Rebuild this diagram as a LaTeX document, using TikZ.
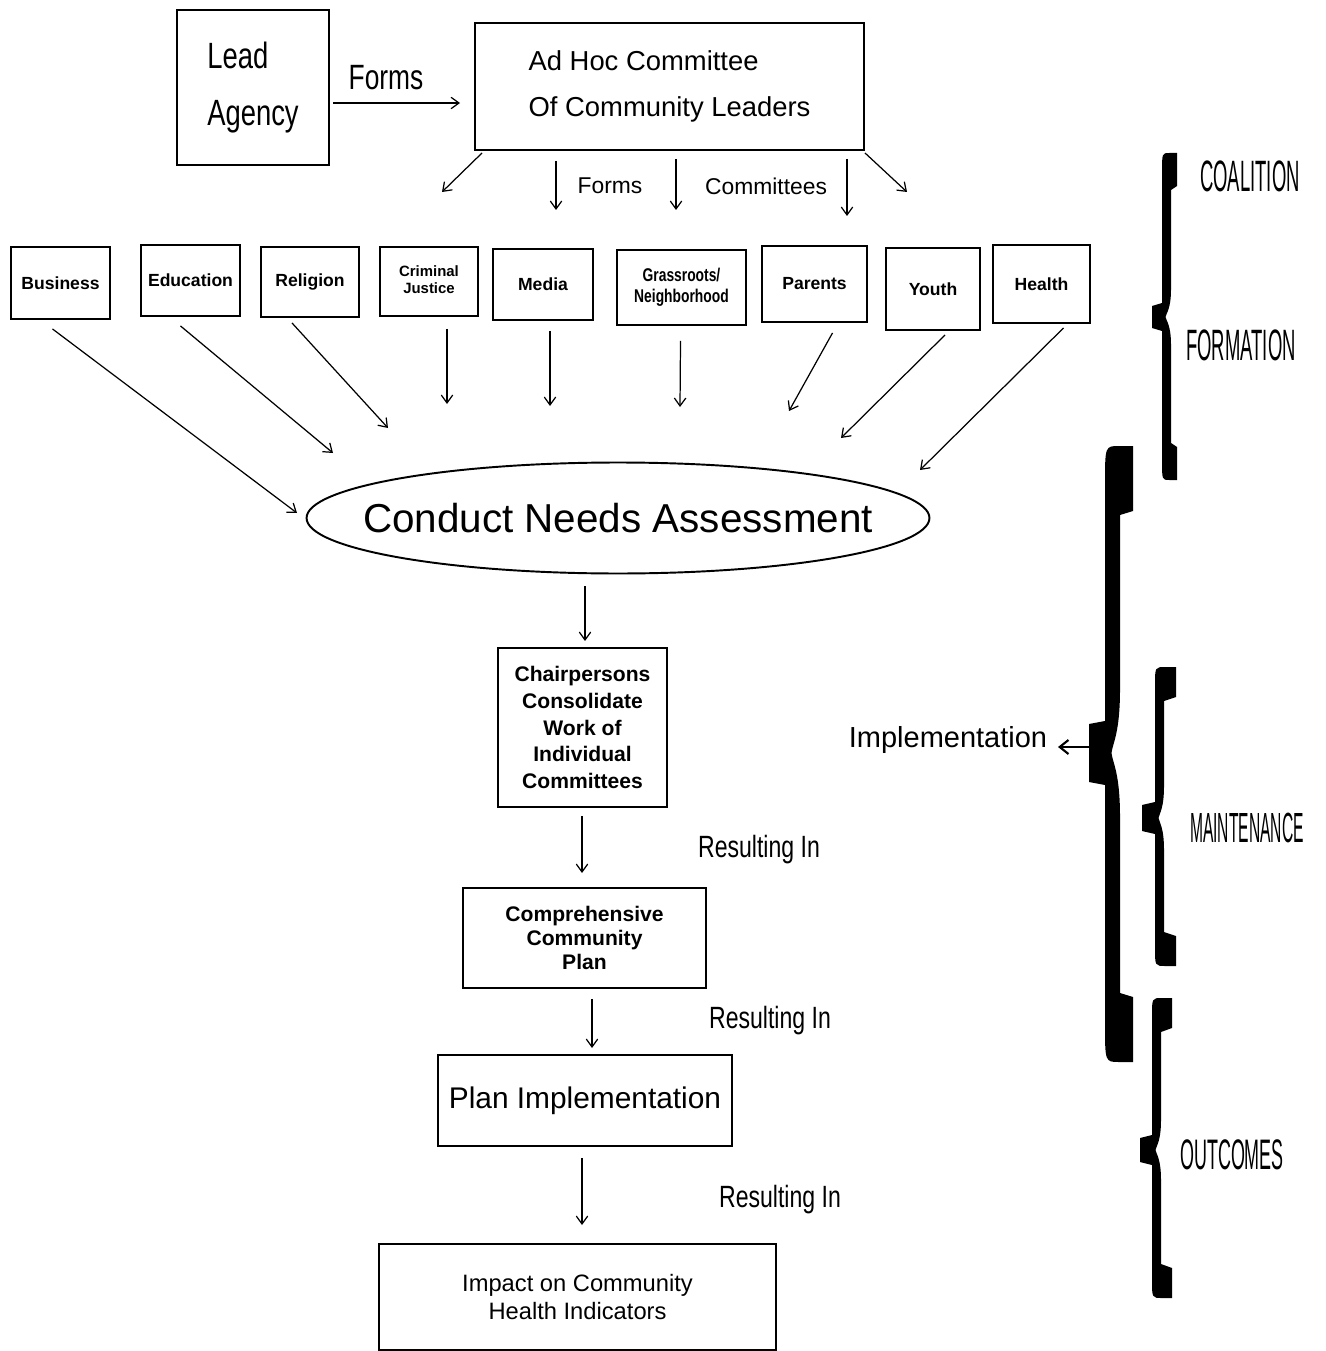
\documentclass[tikz,border=0pt]{standalone}
\usepackage{fontspec}
\setmainfont{Liberation Sans}
\newfontfamily\condfont[FakeStretch=0.75]{Liberation Sans}
\newfontfamily\tallfont[FakeStretch=0.42]{Liberation Sans}
\newfontfamily\tallerfont[FakeStretch=0.37]{Liberation Sans}
\usetikzlibrary{shapes.geometric,arrows.meta,calc}
\newcommand\fsz[2]{\fontsize{#1}{#2}\selectfont}
% Heavy filled left-pointing brace:
% #1 spine left x, #2 spine right x, #3 top y, #4 tip y, #5 bottom y,
% #6 tip x, #7 end x, #8 end length, #9 tip half-height
\newcommand\heavybrace[9]{%
  \fill (#7,#3) -- (#7,{#3+#8}) -- (#2,{#3+#8+4}) -- (#2,{#4-2*#9})
    .. controls (#2,{#4-0.6*#9}) and ({0.5*(#1+#2)},{#4-0.3*#9}) .. ({0.5*(#1+#2)-1},#4)
    .. controls ({0.5*(#1+#2)},{#4+0.3*#9}) and (#2,{#4+0.6*#9}) .. (#2,{#4+2*#9})
    -- (#2,{#5-#8-4}) -- (#7,{#5-#8}) -- (#7,#5)
    -- ({0.5*(#1+#7)},#5) .. controls (#1,#5) .. (#1,{#5-0.6*#8})
    -- (#1,{#4+#9}) -- (#6,{#4+#9-3}) -- (#6,{#4-#9+3}) -- (#1,{#4-#9})
    -- (#1,{#3+0.6*#8}) .. controls (#1,#3) .. ({0.5*(#1+#7)},#3) -- cycle;}
\begin{document}
\begin{tikzpicture}[x=0.02cm,y=-0.02cm,
  box/.style={draw, line width=1.1pt, inner sep=0pt, align=center},
  % a box given by its corners (x1,y1) and (x2,y2)
  pbox/.style n args={4}{box, at={({(#1+#3)/2},{(#2+#4)/2})},
    minimum width={(#3-#1)*0.02cm}, minimum height={(#4-#2)*0.02cm}},
  sector/.style={font=\bfseries\fsz{10}{11}},
  arr/.style={line width=0.7pt, -{Straight Barb[length=4.5pt,width=6.5pt]}},
  lbl/.style={inner sep=0pt}]
\useasboundingbox (0,0) rectangle (1325,1351);

% top: lead agency and ad hoc committee
\node[pbox={177}{10}{329}{165}, align=left, font=\condfont\fsz{20.8}{32}] (lead) {Lead\\Agency};
\node[pbox={475}{23}{864}{150}, align=left, font=\fsz{15.6}{26}] (adhoc) {Ad Hoc Committee\\Of Community Leaders};
\coordinate (f1) at (460,103);
\draw[arr, shorten <=2pt] (lead.east |- f1) -- (f1);
\node[lbl, font=\condfont\fsz{20}{22}] (formsA) at (386,78) {Forms};

% committees formed
\coordinate (c1) at (442,192);
\coordinate (c2) at (556,210);
\coordinate (c3) at (676,210);
\coordinate (c4) at (847,216);
\coordinate (c5) at (907,192);
\draw[arr] ($(adhoc.south west)+(8,2)$) -- (c1);
\draw[arr, shorten <=5.7pt] (adhoc.south -| c2) -- (c2);
\draw[arr, shorten <=4.5pt] (adhoc.south -| c3) -- (c3);
\draw[arr, shorten <=4.5pt] (adhoc.south -| c4) -- (c4);
\draw[arr] ($(adhoc.south east)+(0,2)$) -- (c5);
\node[lbl, font=\fsz{13}{15}] (formsB) at (610,186) {Forms};
\node[lbl, font=\fsz{13}{15}] (comms) at (766,186) {Committees};

% sector committees
\node[pbox={11}{247}{110}{319}, sector] (busi) {Business};
\node[pbox={141}{245}{240}{316}, sector] (educ) {Education};
\node[pbox={261}{247}{359}{317}, sector] (reli) {Religion};
\node[pbox={380}{247}{478}{316}, font=\bfseries\fsz{8.5}{9.6}] (crim) {Criminal\\Justice\vphantom{p}};
\node[pbox={493}{249}{593}{320}, sector] (medi) {Media};
\node[pbox={617}{250}{746}{325}, font=\condfont\bfseries\fsz{10.5}{12}] (gras) {Grassroots/\\Neighborhood};
\node[pbox={762}{246}{867}{322}, sector] (pare) {Parents};
\node[pbox={886}{248}{980}{330}, sector] (yout) {Youth};
\node[pbox={993}{245}{1090}{323}, sector] (heal) {Health};

% needs assessment
\node[ellipse, draw, line width=1.1pt, minimum width=12.46cm, minimum height=2.22cm,
  inner sep=0pt] (need) at (618,518) {};
\node[lbl, font=\fsz{23}{26}] (needtxt) at (need.center) {Conduct Needs Assessment};

\coordinate (t1) at (297,513);
\coordinate (t2) at (333,453);
\coordinate (t3) at (388,428);
\coordinate (t4) at (447,404);
\coordinate (t5) at (550,406);
\coordinate (t6) at (680,407);
\coordinate (t7) at (789,411);
\coordinate (t8) at (841,438);
\coordinate (t9) at (920,470);
\draw[arr] ($(busi.south)+(-8,9)$) -- (t1);
\draw[arr] ($(educ.south)+(-10,9)$) -- (t2);
\draw[arr] ($(reli.south)+(-18,5)$) -- (t3);
\draw[arr] ($(crim.south)+(18,12)$) -- (t4);
\draw[arr] ($(medi.south)+(7,10)$) -- (t5);
\draw[arr] ($(gras.south)+(-1,15)$) -- (t6);
\draw[arr] ($(pare.south)+(18,10)$) -- (t7);
\draw[arr] ($(yout.south)+(12,4)$) -- (t8);
\draw[arr] ($(heal.south)+(22,4)$) -- (t9);

% planning chain
\node[pbox={498}{648}{667}{807}, font=\bfseries\fsz{12}{15.3}] (chair)
  {Chairpersons\\Consolidate\\Work of\\Individual\\Committees};
\node[pbox={463}{888}{706}{988}, font=\bfseries\fsz{12}{13.6}] (comp)
  {Comprehensive\\Community\\Plan};
\node[pbox={438}{1055}{732}{1146}, font=\fsz{17}{19}] (plan) {Plan Implementation};
\node[pbox={379}{1244}{776}{1350}, font=\fsz{13.5}{15.9}] (impact)
  {Impact on Community\\Health Indicators};

\coordinate (a1) at (585,641);
\coordinate (a2) at (582,873);
\coordinate (a3) at (592,1048);
\coordinate (a4) at (582,1225);
\draw[arr, shorten <=6.8pt] (need.south -| a1) -- (a1);
\draw[arr, shorten <=4.5pt] (chair.south -| a2) -- (a2);
\draw[arr, shorten <=5.7pt] (comp.south -| a3) -- (a3);
\draw[arr, shorten <=6.2pt] (plan.south -| a4) -- (a4);

\node[lbl, font=\condfont\fsz{17.5}{19}] (res1) at (759,850) {Resulting In};
\node[lbl, font=\condfont\fsz{17.5}{19}] (res2) at (770,1021) {Resulting In};
\node[lbl, font=\condfont\fsz{17.5}{19}] (res3) at (780,1200) {Resulting In};

% stage braces
\heavybrace{1162}{1171}{153}{317}{480}{1152}{1177}{33}{14}
\heavybrace{1105}{1120}{446}{753}{1062}{1089}{1133}{65}{32}
\heavybrace{1155}{1164}{667}{818}{966}{1142}{1176}{30}{16}
\heavybrace{1152}{1161}{998}{1150}{1298}{1140}{1172}{30}{15}

\node[lbl, font=\fsz{16.5}{18}] (impl) at (948,740) {Implementation};
\coordinate (bt) at (1089,747);
\draw[line width=1.2pt, -{Straight Barb[length=5pt,width=8pt]}, shorten >=6pt] (bt) -- (impl.east |- bt);

\node[lbl, font=\tallfont\fsz{25}{27}] (coal) at (1250,176) {COALITION};
\node[lbl, font=\tallfont\fsz{25}{27}] (form) at (1241,345) {FORMATION};
\node[lbl, font=\tallerfont\fsz{24}{26}] (main) at (1247,828) {MAINTENANCE};
\node[lbl, font=\tallfont\fsz{24.3}{26}] (outc) at (1232,1155) {OUTCOMES};
\end{tikzpicture}
\end{document}
